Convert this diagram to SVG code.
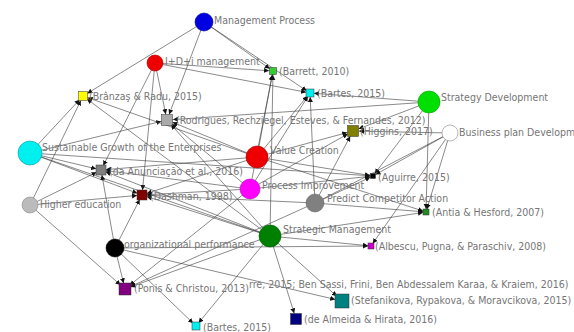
<svg xmlns="http://www.w3.org/2000/svg" width="574" height="332" viewBox="0 0 574 332">
<style>
text{font-family:"DejaVu Sans Condensed","DejaVu Sans",sans-serif;font-size:10.5px;fill:#767676}
.e line{stroke:#3a3a3a;stroke-width:0.6}
.c{stroke-width:0.6}
.s{stroke:#333;stroke-width:0.5}
</style>
<defs>
<marker id="m3" markerUnits="userSpaceOnUse" markerWidth="12" markerHeight="6" refX="8" refY="2.5" orient="auto" viewBox="0 0 12 6"><path d="M0,0L5,2.5L0,5z" fill="#111"/></marker>
<marker id="m4" markerUnits="userSpaceOnUse" markerWidth="12" markerHeight="6" refX="9" refY="2.5" orient="auto" viewBox="0 0 12 6"><path d="M0,0L5,2.5L0,5z" fill="#111"/></marker>
<marker id="m5" markerUnits="userSpaceOnUse" markerWidth="14" markerHeight="6" refX="10" refY="2.5" orient="auto" viewBox="0 0 14 6"><path d="M0,0L5,2.5L0,5z" fill="#111"/></marker>
<marker id="m6" markerUnits="userSpaceOnUse" markerWidth="14" markerHeight="6" refX="11" refY="2.5" orient="auto" viewBox="0 0 14 6"><path d="M0,0L5,2.5L0,5z" fill="#111"/></marker>
<marker id="m7" markerUnits="userSpaceOnUse" markerWidth="14" markerHeight="6" refX="12" refY="2.5" orient="auto" viewBox="0 0 14 6"><path d="M0,0L5,2.5L0,5z" fill="#111"/></marker>
</defs>
<rect width="574" height="332" fill="#fff"/>
<g id="connectors" class="e">
<line x1="204" y1="22" x2="83" y2="96" marker-end="url(#m5)"/>
<line x1="204" y1="22" x2="273" y2="71" marker-end="url(#m4)"/>
<line x1="204" y1="22" x2="167" y2="120" marker-end="url(#m6)"/>
<line x1="204" y1="22" x2="310" y2="93" marker-end="url(#m4)"/>
<line x1="155" y1="63" x2="273" y2="71" marker-end="url(#m4)"/>
<line x1="155" y1="63" x2="310" y2="93" marker-end="url(#m4)"/>
<line x1="155" y1="63" x2="167" y2="120" marker-end="url(#m6)"/>
<line x1="155" y1="63" x2="101" y2="170" marker-end="url(#m5)"/>
<line x1="155" y1="63" x2="142" y2="195" marker-end="url(#m5)"/>
<line x1="429" y1="102" x2="310" y2="93" marker-end="url(#m4)"/>
<line x1="429" y1="102" x2="167" y2="120" marker-end="url(#m6)"/>
<line x1="429" y1="102" x2="353" y2="131" marker-end="url(#m6)"/>
<line x1="429" y1="102" x2="373" y2="176" marker-end="url(#m3)"/>
<line x1="429" y1="102" x2="426" y2="212" marker-end="url(#m3)"/>
<line x1="450" y1="133" x2="353" y2="131" marker-end="url(#m6)"/>
<line x1="450" y1="133" x2="373" y2="176" marker-end="url(#m3)"/>
<line x1="450" y1="133" x2="426" y2="212" marker-end="url(#m3)"/>
<line x1="450" y1="133" x2="371" y2="246" marker-end="url(#m3)"/>
<line x1="450" y1="133" x2="315" y2="203"/>
<line x1="30" y1="153" x2="83" y2="96" marker-end="url(#m5)"/>
<line x1="30" y1="153" x2="167" y2="120" marker-end="url(#m6)"/>
<line x1="30" y1="153" x2="101" y2="170" marker-end="url(#m5)"/>
<line x1="30" y1="153" x2="142" y2="195" marker-end="url(#m5)"/>
<line x1="30" y1="153" x2="373" y2="176" marker-end="url(#m3)"/>
<line x1="30" y1="153" x2="270" y2="236"/>
<line x1="30" y1="205" x2="83" y2="96" marker-end="url(#m5)"/>
<line x1="30" y1="205" x2="101" y2="170" marker-end="url(#m5)"/>
<line x1="30" y1="205" x2="142" y2="195" marker-end="url(#m5)"/>
<line x1="30" y1="205" x2="125" y2="289" marker-end="url(#m6)"/>
<line x1="257" y1="157" x2="273" y2="71" marker-end="url(#m4)"/>
<line x1="257" y1="157" x2="310" y2="93" marker-end="url(#m4)"/>
<line x1="257" y1="157" x2="353" y2="131" marker-end="url(#m6)"/>
<line x1="257" y1="157" x2="373" y2="176" marker-end="url(#m3)"/>
<line x1="257" y1="157" x2="101" y2="170" marker-end="url(#m5)"/>
<line x1="257" y1="157" x2="142" y2="195" marker-end="url(#m5)"/>
<line x1="257" y1="157" x2="167" y2="120" marker-end="url(#m6)"/>
<line x1="257" y1="157" x2="83" y2="96" marker-end="url(#m5)"/>
<line x1="257" y1="157" x2="426" y2="212" marker-end="url(#m3)"/>
<line x1="250" y1="189" x2="273" y2="71" marker-end="url(#m4)"/>
<line x1="250" y1="189" x2="310" y2="93" marker-end="url(#m4)"/>
<line x1="250" y1="189" x2="353" y2="131" marker-end="url(#m6)"/>
<line x1="250" y1="189" x2="142" y2="195" marker-end="url(#m5)"/>
<line x1="250" y1="189" x2="101" y2="170" marker-end="url(#m5)"/>
<line x1="250" y1="189" x2="373" y2="176" marker-end="url(#m3)"/>
<line x1="250" y1="189" x2="167" y2="120" marker-end="url(#m6)"/>
<line x1="250" y1="189" x2="125" y2="289" marker-end="url(#m6)"/>
<line x1="315" y1="203" x2="373" y2="176" marker-end="url(#m3)"/>
<line x1="315" y1="203" x2="426" y2="212" marker-end="url(#m3)"/>
<line x1="315" y1="203" x2="353" y2="131" marker-end="url(#m6)"/>
<line x1="315" y1="203" x2="310" y2="93" marker-end="url(#m4)"/>
<line x1="315" y1="203" x2="142" y2="195" marker-end="url(#m5)"/>
<line x1="315" y1="203" x2="125" y2="289" marker-end="url(#m6)"/>
<line x1="270" y1="236" x2="371" y2="246" marker-end="url(#m3)"/>
<line x1="270" y1="236" x2="342" y2="301" marker-end="url(#m7)"/>
<line x1="270" y1="236" x2="296" y2="319" marker-end="url(#m6)"/>
<line x1="270" y1="236" x2="125" y2="289" marker-end="url(#m6)"/>
<line x1="270" y1="236" x2="196" y2="326" marker-end="url(#m4)"/>
<line x1="270" y1="236" x2="142" y2="195" marker-end="url(#m5)"/>
<line x1="270" y1="236" x2="101" y2="170" marker-end="url(#m5)"/>
<line x1="270" y1="236" x2="167" y2="120" marker-end="url(#m6)"/>
<line x1="270" y1="236" x2="273" y2="71" marker-end="url(#m4)"/>
<line x1="270" y1="236" x2="426" y2="212" marker-end="url(#m3)"/>
<line x1="270" y1="236" x2="83" y2="96" marker-end="url(#m5)"/>
<line x1="115" y1="248" x2="125" y2="289" marker-end="url(#m6)"/>
<line x1="115" y1="248" x2="142" y2="195" marker-end="url(#m5)"/>
<line x1="115" y1="248" x2="101" y2="170" marker-end="url(#m5)"/>
<line x1="115" y1="248" x2="371" y2="246" marker-end="url(#m3)"/>
<line x1="115" y1="248" x2="196" y2="326" marker-end="url(#m4)"/>
<line x1="115" y1="248" x2="342" y2="301" marker-end="url(#m7)"/>
</g>
<g id="n-mp"><circle class="c" cx="204" cy="22" r="9" fill="#0000e0" stroke="#0000a0"/><text x="214" y="24">Management Process</text></g>
<g id="n-idi"><circle class="c" cx="155" cy="63" r="8" fill="#ee0000" stroke="#aa0000"/><text x="165" y="65">I+D+i management</text></g>
<g id="n-sd"><circle class="c" cx="429" cy="102" r="11" fill="#00e000" stroke="#00a000"/><text x="441" y="101">Strategy Development</text></g>
<g id="n-bpd"><circle class="c" cx="450" cy="133" r="8" fill="#fff" stroke="#888"/><text x="459" y="136" font-size="10">Business plan Developm</text></g>
<g id="n-sg"><circle class="c" cx="30" cy="153" r="12" fill="#00f0f0" stroke="#0099aa"/><text x="42" y="151">Sustainable Growth of the Enterprises</text></g>
<g id="n-vc"><circle class="c" cx="257" cy="157" r="11" fill="#ee0000" stroke="#aa0000"/><text x="270" y="154">Value Creation</text></g>
<g id="n-he"><circle class="c" cx="30" cy="205" r="8" fill="#bbbbbb" stroke="#888"/><text x="40" y="208">Higher education</text></g>
<g id="n-pi"><circle class="c" cx="250" cy="189" r="10" fill="#ff00ff" stroke="#bb00bb"/><text x="262" y="189">Process Improvement</text></g>
<g id="n-pca"><circle class="c" cx="315" cy="203" r="9" fill="#808080" stroke="#666"/><text x="327" y="202">Predict Competitor Action</text></g>
<g id="n-sm"><circle class="c" cx="270" cy="236" r="11" fill="#008000" stroke="#005500"/><text x="283" y="233">Strategic Management</text></g>
<g id="n-op"><circle class="c" cx="115" cy="248" r="9" fill="#000" stroke="#000"/><text x="124" y="248">organizational performance</text></g>
<g id="n-br"><rect class="s" x="78.5" y="91.5" width="9" height="9" fill="#ffff00"/><text x="89" y="100">(Brânzaş &amp; Radu, 2015)</text></g>
<g id="n-ba"><rect class="s" x="269.5" y="67.5" width="7" height="7" fill="#33cc33"/><text x="279" y="75">(Barrett, 2010)</text></g>
<g id="n-bt1"><rect class="s" x="306" y="89" width="8" height="8" fill="#00f0f0"/><text x="317" y="97">(Bartes, 2015)</text></g>
<g id="n-ro"><rect class="s" x="161.5" y="114.5" width="11" height="11" fill="#aaaaaa"/><text x="176" y="124">(Rodrigues, Rechziegel, Esteves, &amp; Fernandes, 2012)</text></g>
<g id="n-hi"><rect class="s" x="347.5" y="125.5" width="11" height="11" fill="#808000"/><text x="360" y="135">(Higgins, 2017)</text></g>
<g id="n-da"><rect class="s" x="96" y="165" width="10" height="10" fill="#808080"/><text x="109" y="175">(da Anunciação et al., 2016)</text></g>
<g id="n-ag"><rect class="s" x="370.5" y="173.5" width="5" height="5" fill="#000"/><text x="378" y="181">(Aguirre, 2015)</text></g>
<g id="n-ds"><rect class="s" x="137" y="190" width="10" height="10" fill="#800000"/><text x="150" y="200">(Dashman, 1998)</text></g>
<g id="n-ah"><rect class="s" x="423" y="209" width="6" height="6" fill="#228b22"/><text x="432" y="216">(Antia &amp; Hesford, 2007)</text></g>
<g id="n-al"><rect class="s" x="368" y="243" width="6" height="6" fill="#cc00cc"/><text x="375" y="250">(Albescu, Pugna, &amp; Paraschiv, 2008)</text></g>
<g id="n-pc"><rect class="s" x="119" y="283" width="12" height="12" fill="#800080"/><text x="134" y="292">(Ponis &amp; Christou, 2013)</text></g>
<g id="n-bs"><text x="249" y="288">rre, 2015; Ben Sassi, Frini, Ben Abdessalem Karaa, &amp; Kraiem, 2016)</text></g>
<g id="n-st"><rect class="s" x="335" y="294" width="14" height="14" fill="#008080"/><text x="351" y="304">(Stefanikova, Rypakova, &amp; Moravcikova, 2015)</text></g>
<g id="n-de"><rect class="s" x="290.5" y="313.5" width="11" height="11" fill="#000080"/><text x="304" y="323">(de Almeida &amp; Hirata, 2016)</text></g>
<g id="n-bt2"><rect class="s" x="192" y="322" width="8" height="8" fill="#00f0f0"/><text x="203" y="331">(Bartes, 2015)</text></g>
</svg>
